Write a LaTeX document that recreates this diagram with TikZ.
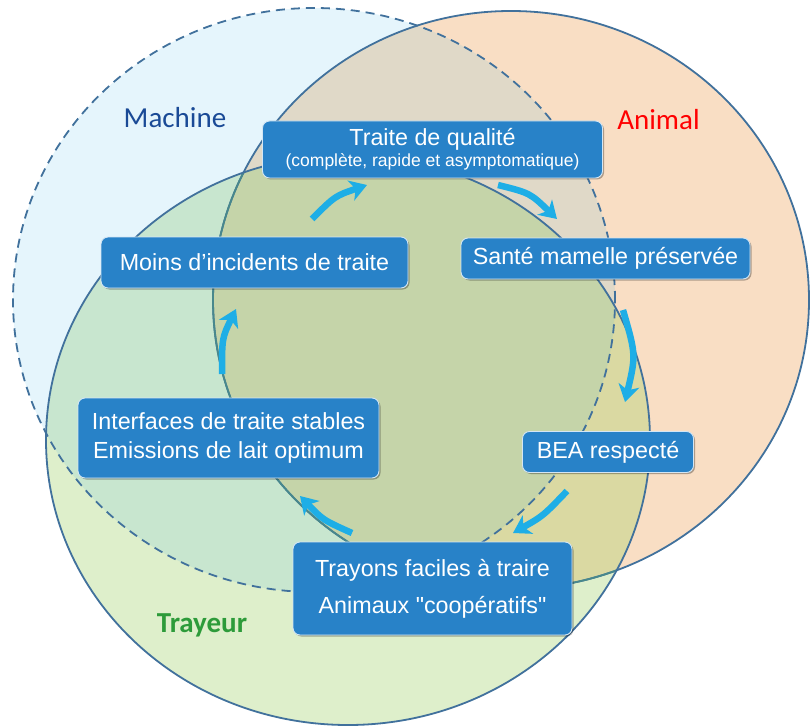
\documentclass[tikz,border=0pt]{standalone}
\usepackage{fontspec}
\setmainfont{Liberation Sans}[Ligatures=TeXOff]
\newfontfamily\labelfont{Carlito}
\usepackage{tikz}
\usepackage{xcolor}
\usetikzlibrary{arrows.meta}
\usetikzlibrary{shadows}

\definecolor{machfill}{RGB}{229,245,252}
\definecolor{animfill}{RGB}{249,222,196}
\definecolor{trayfill}{RGB}{222,239,203}
\definecolor{machanim}{RGB}{224,217,200}
\definecolor{machtray}{RGB}{200,230,207}
\definecolor{animtray}{RGB}{218,217,162}
\definecolor{allthree}{RGB}{197,212,169}
\definecolor{rim}{RGB}{65,113,156}
\definecolor{rimteal}{RGB}{72,136,140}
\definecolor{boxblue}{RGB}{40,130,200}
\definecolor{arrowblue}{RGB}{30,174,230}
\definecolor{machtext}{RGB}{26,74,150}
\definecolor{traytext}{RGB}{45,155,58}

\newcommand{\machinezone}{(314,300) ellipse [x radius=301pt, y radius=292pt]}
\newcommand{\animalzone}{(511,300) ellipse [x radius=298pt, y radius=289pt]}
\newcommand{\trayeurzone}{(348,440) ellipse [x radius=302pt, y radius=285pt]}

\tikzset{
  etape/.style={rectangle, rounded corners=7pt, fill=boxblue, draw=white!80!boxblue,
    line width=0.9pt, text=white, align=center, inner sep=2pt,
    font=\fontsize{23.3}{29}\selectfont,
    drop shadow={shadow xshift=1.5pt, shadow yshift=-1.5pt, opacity=0.3, fill=black}},
  cyclearrow/.style={draw=arrowblue, line width=6.5pt,
    -{Stealth[length=17pt, width=21pt, inset=5pt]}},
  zonelabel/.style={anchor=base, font=\labelfont\fontsize{29}{30}\selectfont}
}

\begin{document}
\begin{tikzpicture}[x=1pt, y=-1pt]
\useasboundingbox (0,0) rectangle (810,727);

% zones
\fill[machfill] \machinezone;
\fill[animfill] \animalzone;
\fill[trayfill] \trayeurzone;
\begin{scope}
  \clip \machinezone;
  \fill[machanim] \animalzone;
  \fill[machtray] \trayeurzone;
\end{scope}
\begin{scope}
  \clip \animalzone;
  \fill[animtray] \trayeurzone;
  \clip \machinezone;
  \fill[allthree] \trayeurzone;
\end{scope}

\draw[rim, line width=1.8pt] \animalzone;
\begin{scope}
  \clip \trayeurzone;
  \draw[rimteal, line width=1.8pt] \animalzone;
\end{scope}
\draw[rim, line width=1.8pt] \trayeurzone;
\draw[rim, line width=1.8pt, dash pattern=on 9pt off 6pt] \machinezone;

\node[zonelabel, text=machtext] (machine) at (175,128) {Machine};
\node[zonelabel, text=red] (animal) at (658.5,130) {Animal};
\node[zonelabel, text=traytext, font=\labelfont\bfseries\fontsize{29}{30}\selectfont] (trayeur) at (202,632) {Trayeur};

% cycle
\node[etape, minimum width=340pt, minimum height=57pt] (qualite) at (432.5,149.5)
  {Traite de qualité\\[-8pt]{\fontsize{17.5}{21}\selectfont (complète, rapide et asymptomatique)}};
\node[etape, minimum width=289pt, minimum height=41pt] (sante) at (605.5,258.5) {Santé mamelle préservée};
\node[etape, minimum width=171pt, minimum height=41pt] (bea) at (608,452) {BEA respecté};
\node[etape, minimum width=279pt, minimum height=93pt] (trayons) at (432.5,588.5)
  {Trayons faciles à traire\\[8pt]Animaux "coopératifs"};
\node[etape, minimum width=301pt, minimum height=80pt] (interfaces) at (228.5,438)
  {Interfaces de traite stables\\Emissions de lait optimum};
\node[etape, minimum width=307pt, minimum height=51pt] (incidents) at (254.5,262.5) {Moins d’incidents de traite};

\coordinate (s1) at (312,219); \coordinate (c1) at (335,196); \coordinate (e1) at (367,185);
\coordinate (s2) at (498,185); \coordinate (c2) at (530,193); \coordinate (e2) at (557,219);
\coordinate (s3) at (623,310); \coordinate (c3) at (636,355); \coordinate (e3) at (625,402);
\coordinate (s4) at (567,491); \coordinate (c4) at (543,516); \coordinate (e4) at (513,533);
\coordinate (s5) at (352,533); \coordinate (c5) at (323,520); \coordinate (e5) at (300,496);
\coordinate (s6) at (222,374); \coordinate (c6) at (222,338); \coordinate (e6) at (236,309);
\foreach \i in {1,...,6}
{
	\draw[cyclearrow] (s\i) .. controls (c\i) .. (e\i);
}
\end{tikzpicture}
\end{document}
